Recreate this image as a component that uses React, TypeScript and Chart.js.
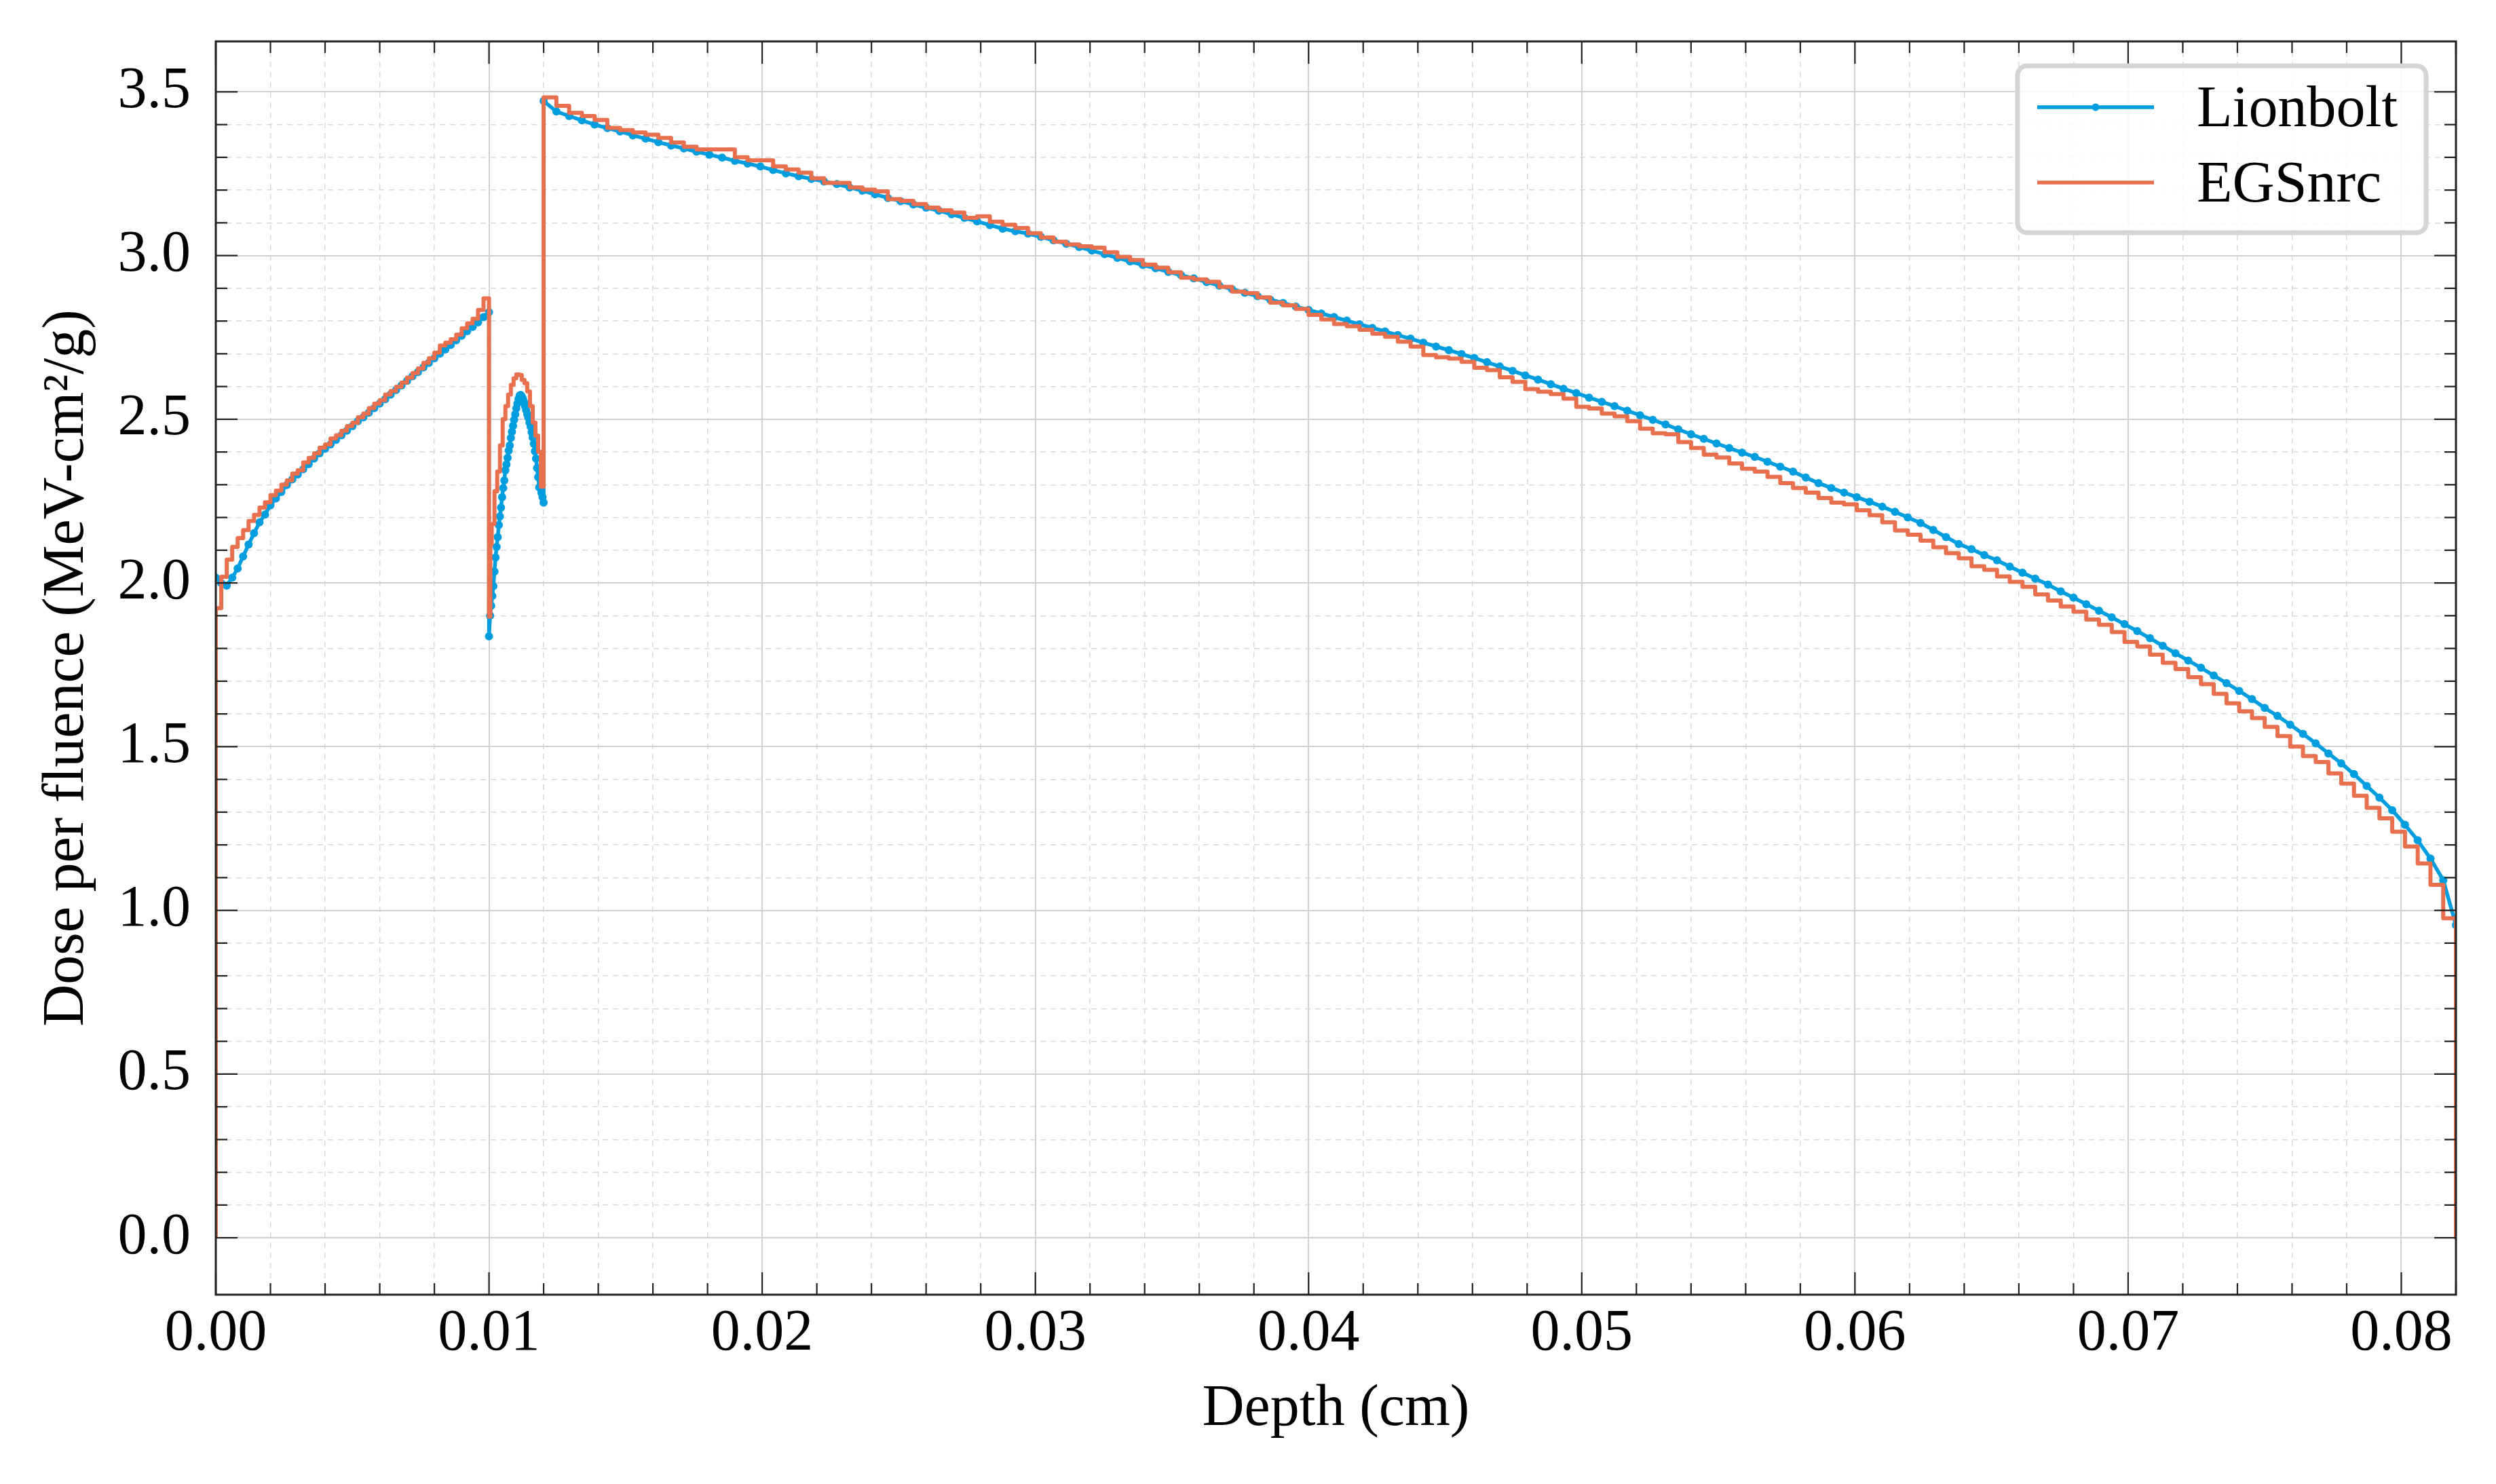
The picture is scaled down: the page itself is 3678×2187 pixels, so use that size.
import React, { useEffect, useRef } from 'react';
import { Chart, registerables } from 'chart.js';

Chart.register(...registerables);

const W = 3678;
const H = 2187;
const FONT = '"Liberation Serif", "Times New Roman", serif';
const FONT_SIZE = 86;

// ---- axes ----
const X_MIN = 0;
const X_MAX = 0.082;
const X_STEP = 0.002;
const X_MAJOR_EVERY = 5; // 0.01
const Y_MIN = -0.174;
const Y_MAX = 3.654;
const Y_STEP = 0.1;
const Y_MAJOR_EVERY = 5; // 0.5

const X_TITLE = 'Depth (cm)';
const Y_TITLE = 'Dose per fluence (MeV-cm\u00B2/g)';
const SERIES_NAMES = ['Lionbolt', 'EGSnrc'];
const COLORS = ['#009EDF', '#E8704F'];

// ---- Lionbolt (points) ----
const LB_SEG1_START = 0;
const LB_SEG1_STEP = 0.0002;
const LB_SEG1 = [
  2.016, 1.999, 1.992, 2.016, 2.044, 2.081, 2.117, 2.152, 2.185, 2.209,
  2.237, 2.258, 2.278, 2.299, 2.316, 2.331, 2.347, 2.363, 2.380, 2.396,
  2.410, 2.423, 2.437, 2.451, 2.465, 2.479, 2.494, 2.506, 2.520, 2.534,
  2.548, 2.561, 2.575, 2.589, 2.603, 2.617, 2.631, 2.644, 2.658, 2.672,
  2.686, 2.700, 2.713, 2.727, 2.741, 2.755, 2.769, 2.782, 2.796, 2.812,
  2.827,
];
const LB_SEG2_START = 0.01;
const LB_SEG2_STEP = 0.00004;
const LB_SEG2 = [
  1.837, 1.900, 1.930, 1.960, 1.990, 2.035, 2.078, 2.110, 2.140, 2.177,
  2.203, 2.230, 2.262, 2.290, 2.313, 2.344, 2.362, 2.382, 2.404, 2.420,
  2.443, 2.462, 2.480, 2.498, 2.515, 2.533, 2.548, 2.562, 2.572, 2.574,
  2.570, 2.563, 2.553, 2.540, 2.528, 2.515, 2.505, 2.490, 2.478, 2.460,
  2.444, 2.425, 2.402, 2.380, 2.351, 2.323, 2.292, 2.290, 2.275, 2.262,
  2.245,
];
const LB_SEG3_START = 0.012;
const LB_SEG3_STEP = 0.07 / 150;
const LB_SEG3 = [
  3.472, 3.440, 3.426, 3.413, 3.400, 3.389, 3.379, 3.367, 3.357, 3.346,
  3.336, 3.327, 3.317, 3.308, 3.299, 3.289, 3.281, 3.272, 3.261, 3.251,
  3.242, 3.234, 3.226, 3.218, 3.208, 3.198, 3.187, 3.176, 3.166, 3.156,
  3.146, 3.137, 3.126, 3.115, 3.104, 3.093, 3.082, 3.074, 3.067, 3.057,
  3.046, 3.036, 3.026, 3.015, 3.004, 2.993, 2.982, 2.971, 2.961, 2.950,
  2.940, 2.930, 2.919, 2.908, 2.897, 2.886, 2.876, 2.865, 2.855, 2.844,
  2.834, 2.823, 2.812, 2.801, 2.790, 2.779, 2.768, 2.757, 2.746, 2.734,
  2.722, 2.711, 2.699, 2.687, 2.674, 2.661, 2.648, 2.634, 2.621, 2.607,
  2.593, 2.580, 2.566, 2.553, 2.540, 2.526, 2.512, 2.498, 2.484, 2.469,
  2.454, 2.440, 2.426, 2.412, 2.398, 2.385, 2.370, 2.355, 2.340, 2.322,
  2.305, 2.290, 2.276, 2.262, 2.248, 2.233, 2.217, 2.200, 2.183, 2.162,
  2.140, 2.119, 2.103, 2.085, 2.069, 2.050, 2.031, 2.013, 1.995, 1.974,
  1.955, 1.935, 1.915, 1.895, 1.874, 1.853, 1.831, 1.808, 1.785, 1.763,
  1.741, 1.717, 1.694, 1.670, 1.645, 1.618, 1.594, 1.567, 1.539, 1.510,
  1.479, 1.449, 1.416, 1.380, 1.344, 1.306, 1.261, 1.214, 1.158, 1.092,
  0.955,
];

// ---- EGSnrc (histogram bins) ----
const EG_BASELINE = 0;
const EG_SEG1_START = 0;
const EG_SEG1_STEP = 0.0002;
const EG_SEG1 = [
  1.923, 2.019, 2.071, 2.110, 2.137, 2.161, 2.189, 2.208, 2.230, 2.246,
  2.268, 2.282, 2.300, 2.313, 2.334, 2.344, 2.368, 2.382, 2.396, 2.413,
  2.423, 2.441, 2.451, 2.465, 2.479, 2.489, 2.506, 2.517, 2.534, 2.548,
  2.558, 2.575, 2.586, 2.599, 2.612, 2.627, 2.641, 2.655, 2.672, 2.686,
  2.703, 2.725, 2.734, 2.744, 2.758, 2.778, 2.793, 2.807, 2.834, 2.869,
];
const EG_SEG2_EDGES = [
  0.01, 0.01005, 0.0101, 0.0102, 0.0103, 0.0104, 0.0105, 0.0106, 0.0107, 0.0108,
  0.0109, 0.011, 0.0111, 0.0112, 0.0113, 0.0114, 0.0115, 0.0116, 0.0117, 0.0118,
  0.0119, 0.012,
];
const EG_SEG2 = [
  1.897, 2.118, 2.180, 2.280, 2.340, 2.420, 2.500, 2.540, 2.575, 2.605,
  2.625, 2.637, 2.635, 2.620, 2.610, 2.585, 2.540, 2.490, 2.450, 2.400,
  2.294,
];
const EG_SEG3_START = 0.012;
const EG_SEG3_STEP = 0.07 / 150;
const EG_SEG3 = [
  3.483, 3.457, 3.436, 3.426, 3.414, 3.390, 3.383, 3.376, 3.369, 3.359,
  3.345, 3.332, 3.324, 3.324, 3.324, 3.300, 3.291, 3.291, 3.272, 3.263,
  3.253, 3.236, 3.222, 3.222, 3.208, 3.201, 3.196, 3.172, 3.167, 3.157,
  3.146, 3.138, 3.131, 3.115, 3.120, 3.103, 3.094, 3.084, 3.068, 3.055,
  3.042, 3.034, 3.028, 3.024, 3.010, 2.996, 2.986, 2.972, 2.963, 2.949,
  2.932, 2.927, 2.920, 2.904, 2.890, 2.885, 2.872, 2.856, 2.848, 2.837,
  2.819, 2.805, 2.791, 2.784, 2.773, 2.761, 2.752, 2.737, 2.722, 2.696,
  2.689, 2.685, 2.675, 2.657, 2.650, 2.628, 2.614, 2.592, 2.584, 2.577,
  2.563, 2.538, 2.533, 2.517, 2.509, 2.494, 2.471, 2.457, 2.454, 2.430,
  2.412, 2.392, 2.383, 2.365, 2.349, 2.340, 2.324, 2.305, 2.290, 2.276,
  2.259, 2.245, 2.240, 2.222, 2.207, 2.185, 2.160, 2.147, 2.129, 2.109,
  2.091, 2.075, 2.051, 2.040, 2.020, 2.003, 1.988, 1.965, 1.946, 1.928,
  1.912, 1.888, 1.872, 1.850, 1.820, 1.806, 1.781, 1.756, 1.737, 1.712,
  1.691, 1.661, 1.632, 1.608, 1.587, 1.560, 1.532, 1.500, 1.471, 1.453,
  1.418, 1.387, 1.350, 1.313, 1.281, 1.240, 1.195, 1.143, 1.078, 0.976,
];

type P = { x: number; y: number };

function buildLionbolt(): P[] {
  const pts: P[] = [];
  LB_SEG1.forEach((v, i) => pts.push({ x: LB_SEG1_START + i * LB_SEG1_STEP, y: v }));
  LB_SEG2.forEach((v, i) => pts.push({ x: LB_SEG2_START + i * LB_SEG2_STEP, y: v }));
  LB_SEG3.forEach((v, i) => pts.push({ x: LB_SEG3_START + i * LB_SEG3_STEP, y: v }));
  return pts;
}

function buildEGS(): P[] {
  const pts: P[] = [{ x: EG_SEG1_START, y: EG_BASELINE }];
  EG_SEG1.forEach((v, i) => {
    const l = EG_SEG1_START + i * EG_SEG1_STEP;
    pts.push({ x: l, y: v }, { x: l + EG_SEG1_STEP, y: v });
  });
  EG_SEG2.forEach((v, i) => {
    pts.push({ x: EG_SEG2_EDGES[i], y: v }, { x: EG_SEG2_EDGES[i + 1], y: v });
  });
  EG_SEG3.forEach((v, i) => {
    const l = EG_SEG3_START + i * EG_SEG3_STEP;
    pts.push({ x: l, y: v }, { x: l + EG_SEG3_STEP, y: v });
  });
  pts.push({ x: EG_SEG3_START + EG_SEG3.length * EG_SEG3_STEP, y: EG_BASELINE });
  return pts;
}

function stepIndex(v: number, step: number): number | null {
  const r = Math.round(v / step);
  return Math.abs(v - r * step) < step * 1e-6 ? r : null;
}

const MAJOR_GRID = '#d0d0d0';
const MINOR_GRID = '#d9d9d9';

function gridOpts(step: number, every: number) {
  const kind = (ctx: any) => {
    const v = ctx && ctx.tick ? ctx.tick.value : null;
    if (v == null) return 'none';
    const r = stepIndex(v, step);
    if (r == null) return 'none';
    return r % every === 0 ? 'major' : 'minor';
  };
  return {
    grid: {
      drawTicks: false,
      color: (ctx: any) => {
        const k = kind(ctx);
        return k === 'major' ? MAJOR_GRID : k === 'minor' ? MINOR_GRID : 'rgba(0,0,0,0)';
      },
      lineWidth: (ctx: any) => (kind(ctx) === 'major' ? 2 : 1.5),
    },
    border: {
      display: false,
      dash: (ctx: any) => (kind(ctx) === 'minor' ? [8, 7] : []),
    },
  };
}

const frameTicks = {
  id: 'frameTicks',
  afterDatasetsDraw(chart: any) {
    const { ctx, chartArea: a, scales } = chart;
    const xs = scales.x;
    const ys = scales.y;
    ctx.save();
    ctx.strokeStyle = '#222222';
    ctx.lineWidth = 2.2;
    ctx.beginPath();
    xs.ticks.forEach((t: any) => {
      const r = stepIndex(t.value, X_STEP);
      if (r == null) return;
      const len = r % X_MAJOR_EVERY === 0 ? 33 : 17;
      const px = xs.getPixelForValue(t.value);
      ctx.moveTo(px, a.bottom);
      ctx.lineTo(px, a.bottom - len);
      ctx.moveTo(px, a.top);
      ctx.lineTo(px, a.top + len);
    });
    ys.ticks.forEach((t: any) => {
      const r = stepIndex(t.value, Y_STEP);
      if (r == null) return;
      const len = r % Y_MAJOR_EVERY === 0 ? 32 : 17;
      const py = ys.getPixelForValue(t.value);
      ctx.moveTo(a.left, py);
      ctx.lineTo(a.left + len, py);
      ctx.moveTo(a.right, py);
      ctx.lineTo(a.right - len, py);
    });
    ctx.stroke();
    ctx.lineWidth = 3;
    ctx.strokeRect(a.left, a.top, a.right - a.left, a.bottom - a.top);
    ctx.restore();
  },
};

const legendBox = {
  id: 'legendBox',
  afterDraw(chart: any) {
    const { ctx, chartArea: a } = chart;
    const right = a.right - 44;
    const top = a.top + 36;
    const w = 602;
    const h = 246;
    const left = right - w;
    const r = 14;
    ctx.save();
    ctx.beginPath();
    ctx.moveTo(left + r, top);
    ctx.lineTo(left + w - r, top);
    ctx.arcTo(left + w, top, left + w, top + r, r);
    ctx.lineTo(left + w, top + h - r);
    ctx.arcTo(left + w, top + h, left + w - r, top + h, r);
    ctx.lineTo(left + r, top + h);
    ctx.arcTo(left, top + h, left, top + h - r, r);
    ctx.lineTo(left, top + r);
    ctx.arcTo(left, top, left + r, top, r);
    ctx.closePath();
    ctx.fillStyle = 'rgba(255,255,255,0.85)';
    ctx.fill();
    ctx.lineWidth = 7;
    ctx.strokeStyle = '#d5d5d5';
    ctx.stroke();

    SERIES_NAMES.forEach((name, i) => {
      const yy = top + 61 + i * 111;
      const x1 = left + 29;
      const x2 = left + 201;
      ctx.beginPath();
      ctx.strokeStyle = COLORS[i];
      ctx.lineWidth = 5.5;
      ctx.moveTo(x1, yy);
      ctx.lineTo(x2, yy);
      ctx.stroke();
      if (i === 0) {
        ctx.beginPath();
        ctx.fillStyle = COLORS[i];
        ctx.arc((x1 + x2) / 2, yy, 5.5, 0, Math.PI * 2);
        ctx.fill();
      }
      ctx.fillStyle = '#000000';
      ctx.font = `${FONT_SIZE}px ${FONT}`;
      ctx.textAlign = 'left';
      ctx.textBaseline = 'alphabetic';
      ctx.fillText(name, left + 264, yy + 28);
    });
    ctx.restore();
  },
};

export default function App() {
  const canvasRef = useRef<HTMLCanvasElement | null>(null);

  useEffect(() => {
    document.body.style.margin = '0';
    const canvas = canvasRef.current;
    if (!canvas) return;
    const chart = new Chart(canvas, {
      type: 'line',
      data: {
        datasets: [
          {
            label: SERIES_NAMES[0],
            data: buildLionbolt(),
            borderColor: COLORS[0],
            backgroundColor: COLORS[0],
            borderWidth: 5.5,
            pointRadius: 6,
            pointBorderWidth: 0,
            pointBackgroundColor: COLORS[0],
            tension: 0,
            fill: false,
            order: 1,
          },
          {
            label: SERIES_NAMES[1],
            data: buildEGS(),
            borderColor: COLORS[1],
            backgroundColor: COLORS[1],
            borderWidth: 6,
            pointRadius: 0,
            tension: 0,
            fill: false,
            borderJoinStyle: 'round',
            order: 0,
          },
        ],
      },
      options: {
        responsive: false,
        animation: false,
        devicePixelRatio: 1,
        events: [],
        layout: { padding: { top: 61, right: 59, left: 0, bottom: 0 } },
        plugins: {
          legend: { display: false },
          tooltip: { enabled: false },
        },
        scales: {
          x: {
            type: 'linear',
            min: X_MIN,
            max: X_MAX,
            ...gridOpts(X_STEP, X_MAJOR_EVERY),
            ticks: {
              stepSize: X_STEP,
              autoSkip: false,
              maxRotation: 0,
              minRotation: 0,
              padding: 7,
              color: '#000000',
              font: { family: FONT, size: FONT_SIZE },
              callback: (v: any) => {
                const r = stepIndex(Number(v), X_STEP);
                return r != null && r % X_MAJOR_EVERY === 0 ? (r * X_STEP).toFixed(2) : '';
              },
            },
            title: {
              display: true,
              text: X_TITLE,
              color: '#000000',
              font: { family: FONT, size: FONT_SIZE },
              padding: { top: 0, bottom: 58 },
            },
            afterFit: (s: any) => {
              s.height = 279;
              s.paddingLeft = 0;
              s.paddingRight = 0;
            },
          },
          y: {
            type: 'linear',
            min: Y_MIN,
            max: Y_MAX,
            ...gridOpts(Y_STEP, Y_MAJOR_EVERY),
            ticks: {
              stepSize: Y_STEP,
              autoSkip: false,
              padding: 37,
              color: '#000000',
              font: { family: FONT, size: FONT_SIZE },
              callback: (v: any) => {
                const r = stepIndex(Number(v), Y_STEP);
                return r != null && r % Y_MAJOR_EVERY === 0 ? (r * Y_STEP).toFixed(1) : '';
              },
            },
            title: {
              display: true,
              text: Y_TITLE,
              color: '#000000',
              font: { family: FONT, size: FONT_SIZE },
              padding: { top: 48, bottom: 0 },
            },
            afterFit: (s: any) => {
              s.width = 318;
              s.paddingTop = 0;
              s.paddingBottom = 0;
            },
          },
        },
      } as any,
      plugins: [frameTicks, legendBox],
    });
    return () => chart.destroy();
  }, []);

  return (
    <div style={{ position: 'absolute', left: 0, top: 0, width: W, height: H, background: '#ffffff' }}>
      <canvas ref={canvasRef} width={W} height={H} style={{ width: W, height: H, display: 'block' }} />
    </div>
  );
}
